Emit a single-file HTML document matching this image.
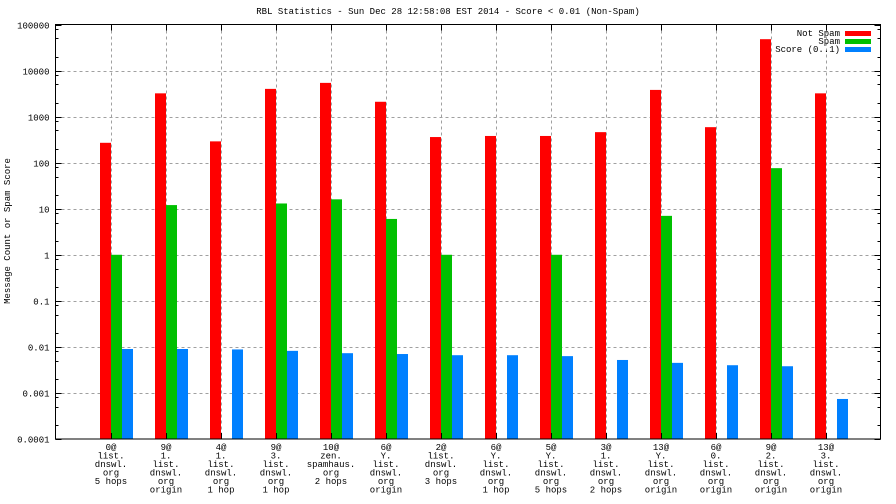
<!DOCTYPE html>
<html><head><meta charset="utf-8"><style>
html,body{margin:0;padding:0;background:#fff}
svg{display:block}
text{font-family:"Liberation Mono","DejaVu Sans Mono",monospace;font-size:9px;fill:#000}
</style></head><body>
<svg id="chart" width="896" height="504" viewBox="0 0 896 504" xmlns="http://www.w3.org/2000/svg">
<text x="448" y="14" text-anchor="middle">RBL Statistics - Sun Dec 28 12:58:08 EST 2014 - Score &lt; 0.01 (Non-Spam)</text>
<text transform="translate(10,231) rotate(-90)" text-anchor="middle">Message Count or Spam Score</text>
<g id="grid"></g>
<g id="bars"></g>
<g id="axes"></g>
<g id="legend">
<text x="840" y="36" text-anchor="end">Not Spam</text>
<rect x="845" y="31" width="26" height="5" fill="#ff0000"/>
<text x="840" y="44" text-anchor="end">Spam</text>
<rect x="845" y="39" width="26" height="5" fill="#00c000"/>
<text x="840" y="52" text-anchor="end">Score (0..1)</text>
<rect x="845" y="47" width="26" height="5" fill="#0080ff"/>
</g>
</svg>
<script>
const categories = [
 ["0@","list.","dnswl.","org","5 hops"],
 ["9@","1.","list.","dnswl.","org","origin"],
 ["4@","1.","list.","dnswl.","org","1 hop"],
 ["9@","3.","list.","dnswl.","org","1 hop"],
 ["10@","zen.","spamhaus.","org","2 hops"],
 ["6@","Y.","list.","dnswl.","org","origin"],
 ["2@","list.","dnswl.","org","3 hops"],
 ["6@","Y.","list.","dnswl.","org","1 hop"],
 ["5@","Y.","list.","dnswl.","org","5 hops"],
 ["3@","1.","list.","dnswl.","org","2 hops"],
 ["13@","Y.","list.","dnswl.","org","origin"],
 ["6@","0.","list.","dnswl.","org","origin"],
 ["9@","2.","list.","dnswl.","org","origin"],
 ["13@","3.","list.","dnswl.","org","origin"]
];
const notSpam = [270,3200,290,4000,5400,2100,360,380,380,460,3800,590,48000,3200];
const spam = [1,12,0,13,16,6,1,0,1,0,7,0,76,0];
const score = [0.009,0.009,0.0088,0.0082,0.0073,0.007,0.0066,0.0066,0.0063,0.0052,0.0045,0.004,0.0038,0.00074];
const yTickLabels = ["0.0001","0.001","0.01","0.1","1","10","100","1000","10000","100000"];
const yTickValues = [0.0001,0.001,0.01,0.1,1,10,100,1000,10000,100000];

const NS="http://www.w3.org/2000/svg";
const L=55.5,R=880.5,T=24.5,B=439;
const yMinLog=-4,yMaxLog=5;
function y(v){return B-(Math.log10(v)-yMinLog)/(yMaxLog-yMinLog)*(B-T);}
function x(i){return L+(R-L)/(categories.length+1)*(i+1);}
function mk(tag,attrs,parent){const e=document.createElementNS(NS,tag);for(const k in attrs)e.setAttribute(k,attrs[k]);parent.appendChild(e);return e;}
const grid=document.getElementById('grid'),bars=document.getElementById('bars'),axes=document.getElementById('axes');

yTickValues.forEach((v,k)=>{
 const yy=Math.round(y(v))+0.5;
 if(k>0&&k<yTickValues.length-1){const g=mk('line',{x1:L,x2:R,y1:yy,y2:yy,stroke:'#a0a0a0','stroke-dasharray':'3,3'},grid);
 
 }
 const t=mk('text',{x:L-6,y:yy+3,'text-anchor':'end'},axes);t.textContent=yTickLabels[k];
 
 
 mk('line',{x1:L,x2:L+6,y1:yy,y2:yy,stroke:'#000'},axes);
 mk('line',{x1:R,x2:R-6,y1:yy,y2:yy,stroke:'#000'},axes);
 if(k<yTickValues.length-1){[2,5,8].forEach(m=>{const my=Math.round(y(v*m))+0.5;
  mk('line',{x1:L,x2:L+3,y1:my,y2:my,stroke:'#000'},axes);
  mk('line',{x1:R,x2:R-3,y1:my,y2:my,stroke:'#000'},axes);});}
});

const series=[[notSpam,'#ff0000',-11,'not-spam'],[spam,'#00c000',0,'spam'],[score,'#0080ff',11,'score']];
categories.forEach((c,i)=>{
 const cx=Math.round(x(i));
 const g=mk('line',{x1:cx+0.5,x2:cx+0.5,y1:T,y2:B,stroke:'#a0a0a0','stroke-dasharray':'3,3'},grid);
 
 
 mk('line',{x1:cx+0.5,x2:cx+0.5,y1:T,y2:T+6,stroke:'#000'},axes);
 mk('line',{x1:cx+0.5,x2:cx+0.5,y1:B,y2:B-6,stroke:'#000'},axes);
 series.forEach(s=>{const v=s[0][i];if(v>0){const top=y(v);
  const r=mk('rect',{x:cx+s[2],y:top,width:11,height:B-top,fill:s[1]},bars);
  
  }});
 c.forEach((line,j)=>{const t=mk('text',{x:cx,y:450+j*8.5,'text-anchor':'middle'},axes);t.textContent=line;
  
  });
});
const f=mk('rect',{x:L,y:T,width:R-L,height:B-T,fill:'none',stroke:'#000'},axes);


</script>
</body></html>
